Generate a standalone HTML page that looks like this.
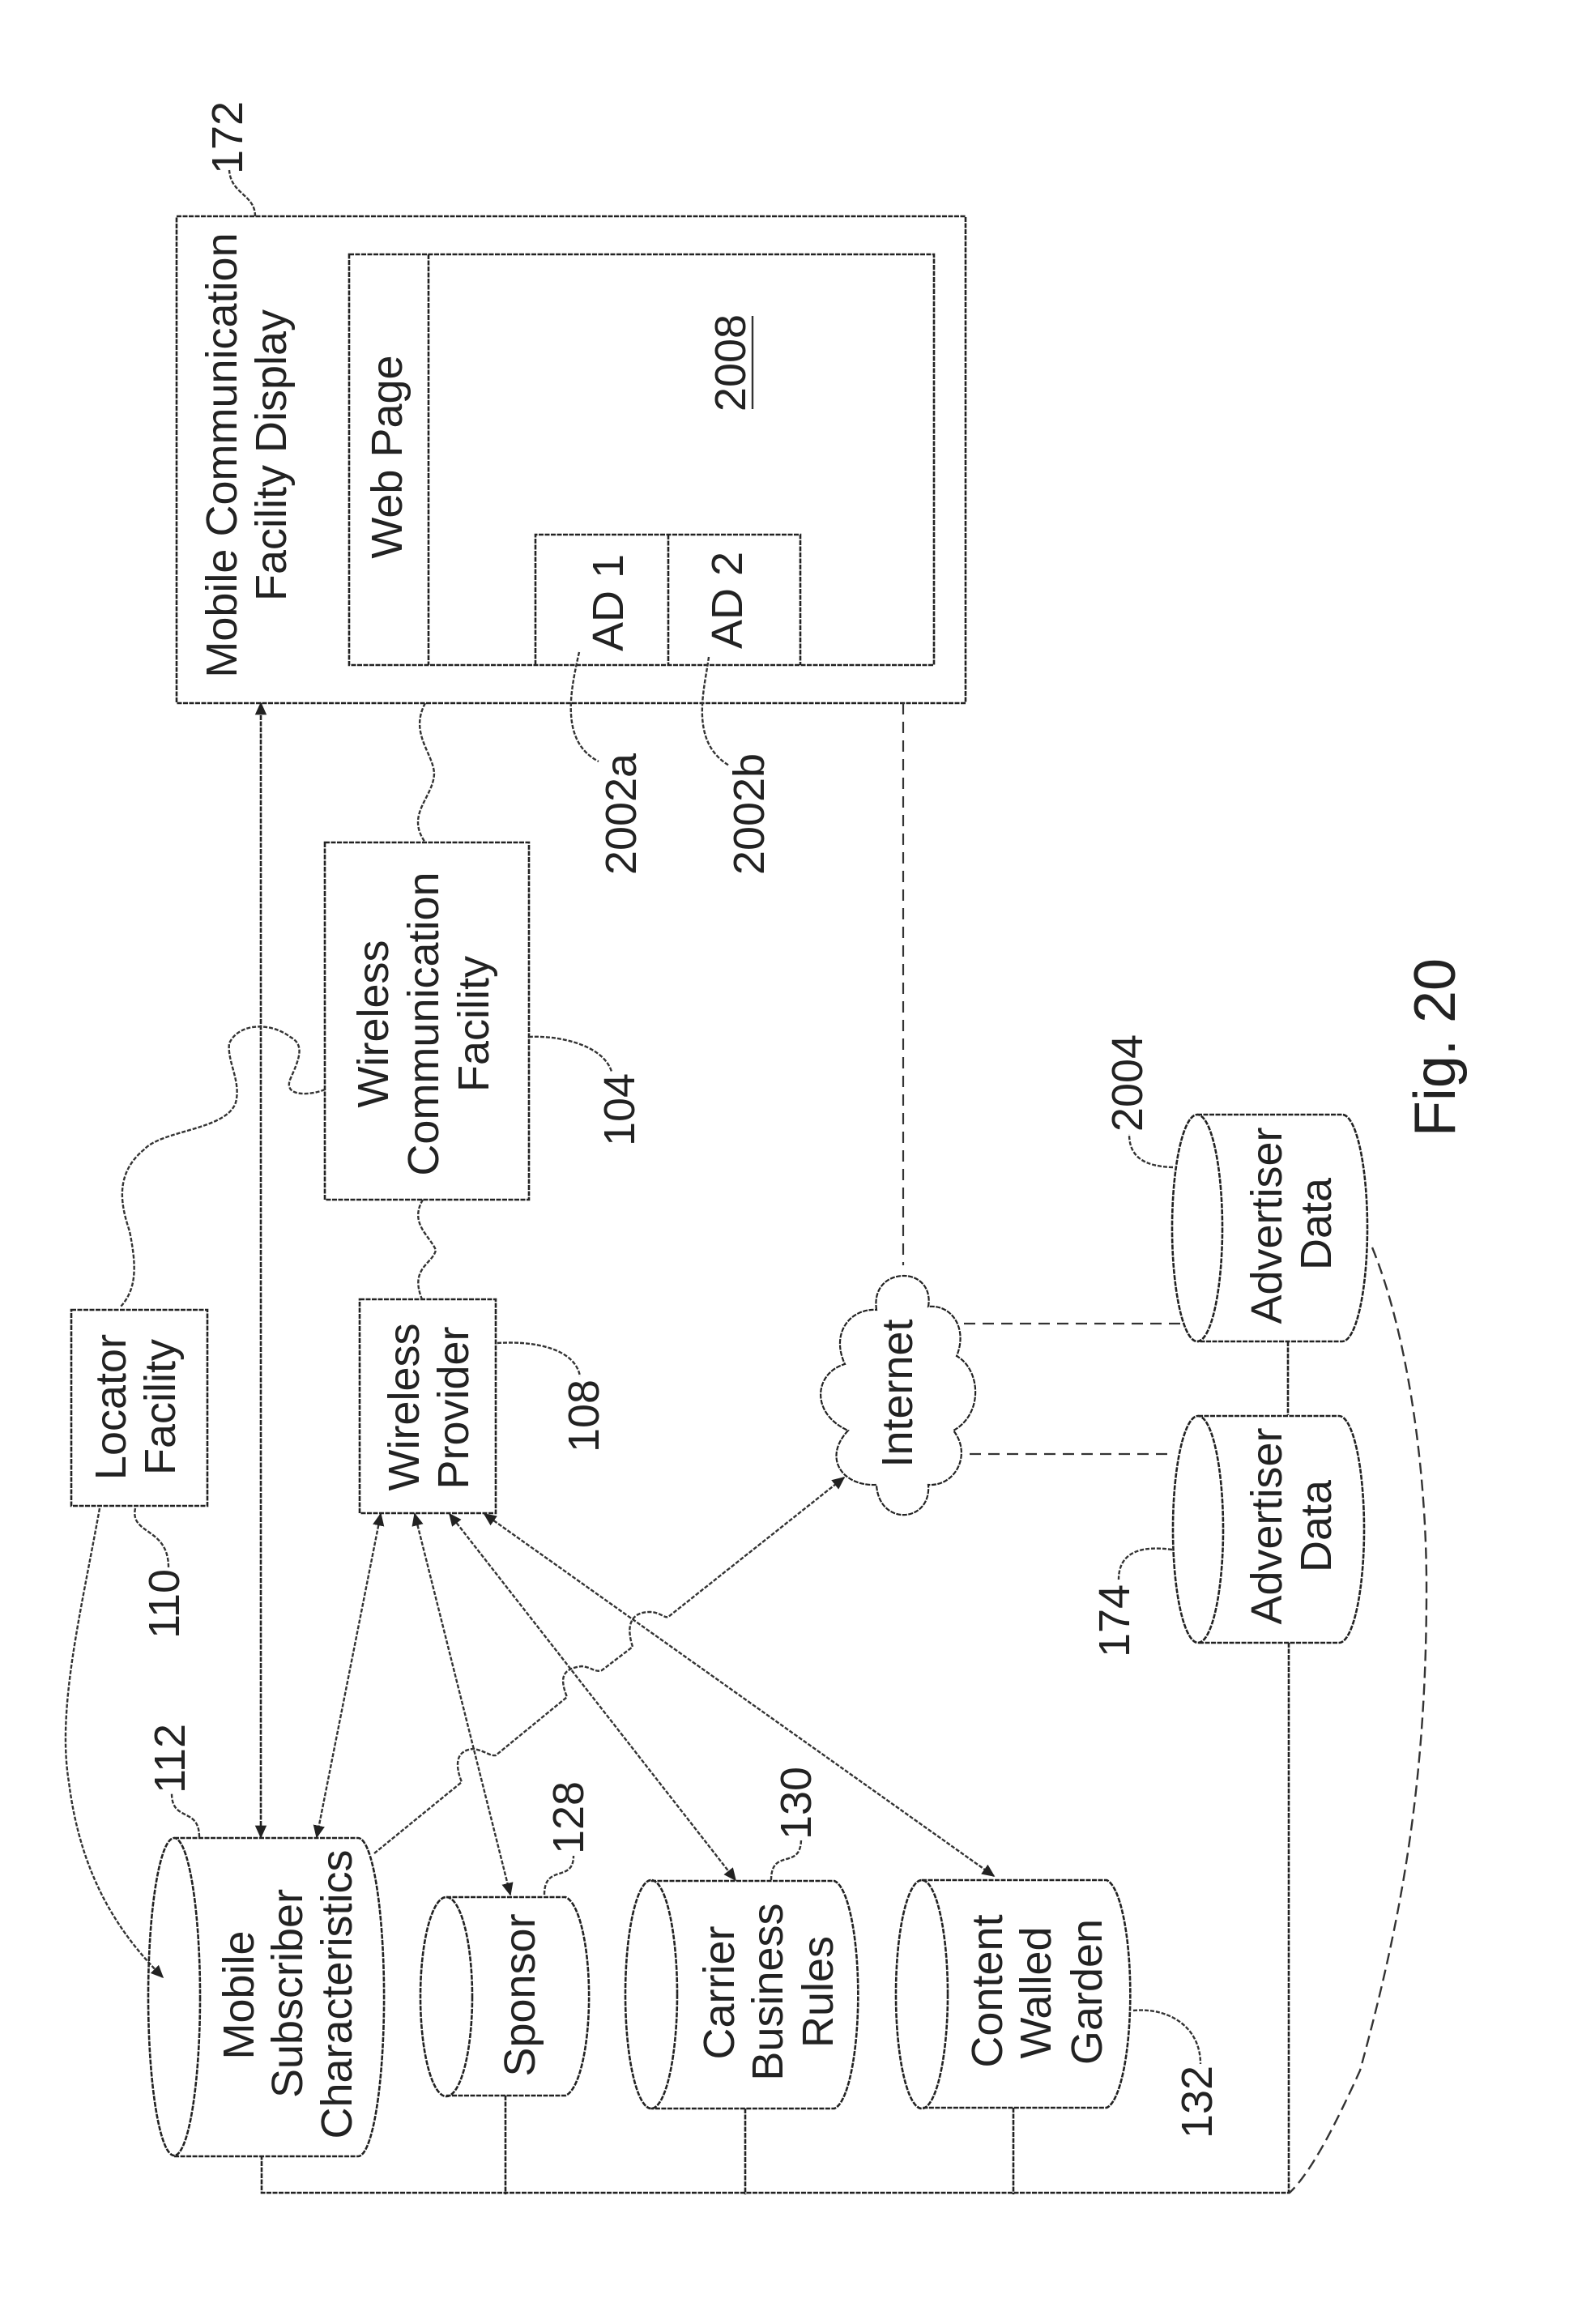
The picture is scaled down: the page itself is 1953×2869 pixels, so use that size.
<!DOCTYPE html>
<html><head><meta charset="utf-8"><style>
html,body{margin:0;padding:0;background:#fff}
svg{display:block}
text{font-family:"Liberation Sans",sans-serif;font-size:54px;fill:#222;text-anchor:middle}
.s{fill:none;stroke:#222;stroke-width:2.6;stroke-dasharray:6 1.5}
.t{fill:none;stroke:#333;stroke-width:2.4;stroke-dasharray:5 2}
.d{fill:none;stroke:#333;stroke-width:2.2;stroke-dasharray:14 9}
.w{fill:#fff;stroke:#222;stroke-width:2.6;stroke-dasharray:6 1.5}
</style></head><body>
<svg xmlns="http://www.w3.org/2000/svg" width="1953" height="2869" viewBox="0 0 1953 2869">
<defs><marker id="a" viewBox="0 0 10 10" refX="9" refY="5" markerWidth="16" markerHeight="16" markerUnits="userSpaceOnUse" orient="auto-start-reverse"><path d="M0,0.5L10,5L0,9.5z" fill="#222"/></marker></defs>
<rect class="s" x="218" y="267" width="974" height="601"/>
<rect class="s" x="431" y="314" width="722" height="507"/>
<path class="s" d="M529,314V821M661,821V660H988V821M825,660V821"/>
<path class="t" d="M315,267C315,240 285,240 283,210"/>
<path class="t" d="M715,805C705,850 690,915 739,940"/>
<path class="t" d="M875,811C870,850 850,915 900,945"/>
<path class="t" d="M525,868C505,905 535,930 536,955C535,985 500,1005 525,1040"/>
<rect class="s" x="401" y="1040" width="252" height="441"/>
<path class="t" d="M653,1280C690,1278 745,1290 755,1323"/>
<path class="s" marker-start="url(#a)" marker-end="url(#a)" d="M322,868V2268"/>
<path class="d" d="M1115,868V1562"/>
<path class="t" d="M401,1345C385,1352 350,1355 358,1333C368,1310 378,1290 358,1280C335,1262 295,1262 283,1288C280,1310 298,1335 291,1361C280,1395 200,1395 178,1419C140,1450 150,1490 160,1520C168,1560 170,1590 149,1613"/>
<rect class="s" x="88" y="1617" width="168" height="242"/>
<path class="t" d="M167,1862C160,1895 208,1885 208,1935"/>
<path class="t" marker-end="url(#a)" d="M123,1862C100,1990 70,2110 85,2200C100,2320 150,2390 201,2441"/>
<rect class="s" x="444" y="1604" width="168" height="264"/>
<path class="t" d="M522,1481C505,1510 530,1525 538,1543C535,1560 505,1565 521,1604"/>
<path class="t" d="M614,1658C660,1655 710,1665 716,1699"/>
<path class="t" marker-start="url(#a)" marker-end="url(#a)" d="M470,1869L391,2268" style="display:none"/>
<path class="t" marker-start="url(#a)" marker-end="url(#a)" d="M470,1869L391,2268" transform="translate(0,0)"/>
<path class="t" marker-start="url(#a)" marker-end="url(#a)" d="M512,1869L630,2339"/>
<path class="t" marker-start="url(#a)" marker-end="url(#a)" d="M555,1869L908,2321"/>
<path class="t" marker-start="url(#a)" marker-end="url(#a)" d="M598,1869L1227,2316"/>
<path class="t" marker-end="url(#a)" d="M462,2288L570,2200C560,2175 565,2160 585,2159C600,2162 605,2168 612,2167L700,2095C690,2070 695,2060 718,2057C730,2058 735,2065 743,2062L781,2033C772,2005 780,1990 802,1990C815,1990 820,1998 825,1996L1042,1824"/>
<path class="w" d="M1082,1617C1078,1590 1095,1575 1116,1575C1135,1575 1150,1590 1146,1613C1175,1610 1195,1640 1181,1674C1210,1690 1215,1745 1177,1766C1200,1795 1180,1835 1146,1833C1150,1880 1085,1885 1082,1833C1040,1835 1015,1800 1047,1766C1000,1745 1005,1695 1043,1684C1025,1645 1050,1615 1082,1617Z" style="stroke-width:2.2"/>
<path class="d" d="M1190,1634H1461M1197,1795H1448"/>
<path class="s" d="M1590,1656V1747M1591,2028V2707H323V2662M624,2587V2709M920,2603V2709M1251,2602V2709"/>
<path class="t" d="M1694,1540C1735,1640 1760,1800 1761,1950C1762,2200 1730,2370 1679,2556C1650,2620 1620,2680 1592,2707" style="stroke-dasharray:14 7"/>
<g class="s">
<path d="M1478,1376H1657A31,140 0 0 1 1657,1656H1478"/><ellipse cx="1478" cy="1516" rx="31" ry="140"/>
<path d="M1479,1748H1653A31,140 0 0 1 1653,2028H1479"/><ellipse cx="1479" cy="1888" rx="31" ry="140"/>
<path d="M215,2269H442A32,196 0 0 1 442,2662H215"/><ellipse cx="215" cy="2465" rx="32" ry="196"/>
<path d="M551,2342H698A32,123 0 0 1 698,2587H551"/><ellipse cx="551" cy="2465" rx="32" ry="123"/>
<path d="M804,2322H1030A32,141 0 0 1 1030,2603H804"/><ellipse cx="804" cy="2462" rx="32" ry="141"/>
<path d="M1138,2321H1366A32,141 0 0 1 1366,2602H1138"/><ellipse cx="1138" cy="2462" rx="32" ry="141"/>
</g>
<path class="t" d="M672,2339C672,2300 708,2325 708,2291"/>
<path class="t" d="M246,2268C246,2230 212,2250 212,2214"/>
<path class="t" d="M952,2321C952,2280 989,2310 989,2270"/>
<path class="t" d="M1399,2482C1440,2478 1482,2500 1482,2548"/>
<path class="t" d="M1447,1913C1410,1908 1381,1915 1381,1950"/>
<path class="t" d="M1448,1441C1415,1440 1394,1430 1394,1400"/>
<path class="t" d="M929,390V505" style="stroke-dasharray:none"/>
<g>
<text transform="translate(292,562) rotate(-90)">Mobile Communication</text>
<text transform="translate(353,562) rotate(-90)">Facility Display</text>
<text transform="translate(496,564) rotate(-90)">Web Page</text>
<text transform="translate(769,744) rotate(-90)">AD 1</text>
<text transform="translate(916,741) rotate(-90)">AD 2</text>
<text transform="translate(920,448) rotate(-90)">2008</text>
<text transform="translate(299,170) rotate(-90)">172</text>
<text transform="translate(785,1005) rotate(-90)">2002a</text>
<text transform="translate(943,1005) rotate(-90)">2002b</text>
<text transform="translate(479,1264) rotate(-90)">Wireless</text>
<text transform="translate(541,1264) rotate(-90)">Communication</text>
<text transform="translate(603,1264) rotate(-90)">Facility</text>
<text transform="translate(783,1370) rotate(-90)">104</text>
<text transform="translate(155,1737) rotate(-90)">Locator</text>
<text transform="translate(216,1737) rotate(-90)">Facility</text>
<text transform="translate(221,1980) rotate(-90)">110</text>
<text transform="translate(517,1737) rotate(-90)">Wireless</text>
<text transform="translate(578,1738) rotate(-90)">Provider</text>
<text transform="translate(739,1748) rotate(-90)">108</text>
<text transform="translate(1126,1720) rotate(-90)">Internet</text>
<text transform="translate(1582,1513) rotate(-90)">Advertiser</text>
<text transform="translate(1643,1511) rotate(-90)">Data</text>
<text transform="translate(1582,1884) rotate(-90)">Advertiser</text>
<text transform="translate(1643,1884) rotate(-90)">Data</text>
<text transform="translate(1394,2001) rotate(-90)">174</text>
<text transform="translate(1410,1337) rotate(-90)">2004</text>
<text transform="translate(313,2463) rotate(-90)">Mobile</text>
<text transform="translate(373,2461) rotate(-90)">Subscriber</text>
<text transform="translate(434,2462) rotate(-90)">Characteristics</text>
<text transform="translate(228,2171) rotate(-90)">112</text>
<text transform="translate(660,2463) rotate(-90)">Sponsor</text>
<text transform="translate(720,2244) rotate(-90)">128</text>
<text transform="translate(906,2460) rotate(-90)">Carrier</text>
<text transform="translate(966,2459) rotate(-90)">Business</text>
<text transform="translate(1028,2459) rotate(-90)">Rules</text>
<text transform="translate(1001,2226) rotate(-90)">130</text>
<text transform="translate(1237,2458) rotate(-90)">Content</text>
<text transform="translate(1297,2460) rotate(-90)">Walled</text>
<text transform="translate(1360,2459) rotate(-90)">Garden</text>
<text transform="translate(1496,2595) rotate(-90)">132</text>
<text transform="translate(1796,1293) rotate(-90)" style="font-size:72px">Fig. 20</text>
</g>
</svg>
</body></html>
